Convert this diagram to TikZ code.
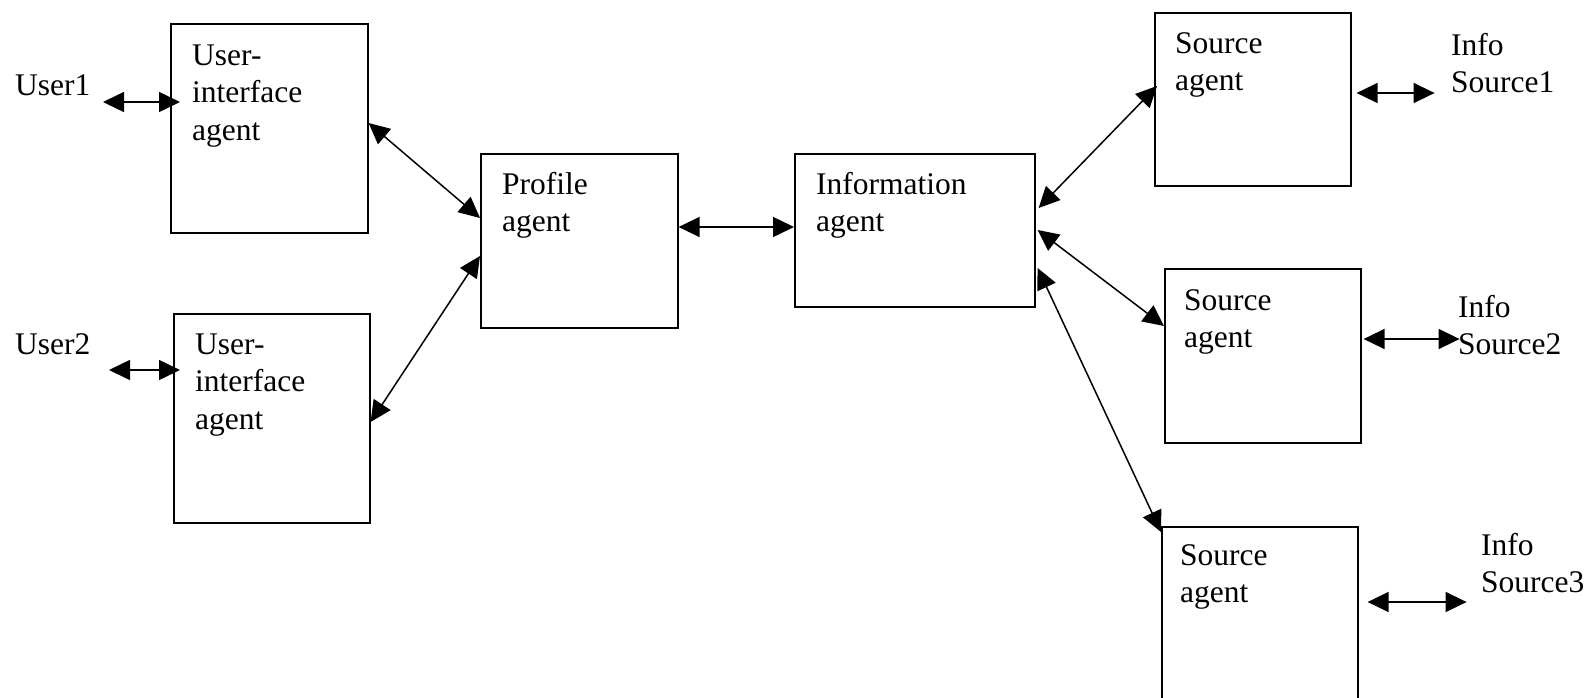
\documentclass[tikz,border=0pt]{standalone}
\usepackage{fontspec}
\setmainfont{Liberation Serif}
\usetikzlibrary{arrows.meta,calc}
\begin{document}
\begin{tikzpicture}[x=1pt,y=-1pt,
  box/.style={draw, line width=1.6pt, inner sep=0pt, anchor=north west},
  lbl/.style={font=\fontsize{31.5}{37.8}\selectfont, align=left, inner sep=0pt, anchor=base west},
  link/.style={line width=1.5pt, {Triangle[length=21pt,width=20pt]}-{Triangle[length=21pt,width=20pt]}},
]
\useasboundingbox (0,0) rectangle (1588,697);
\clip (0,0) rectangle (1588,697);
% boxes
\node[box, minimum width=197pt, minimum height=209pt] (ui1) at (170,23) {};
\node[box, minimum width=196pt, minimum height=209pt] (ui2) at (173,313) {};
\node[box, minimum width=197pt, minimum height=174pt] (prof) at (480,153) {};
\node[box, minimum width=240pt, minimum height=153pt] (info) at (794,153) {};
\node[box, minimum width=196pt, minimum height=173pt] (s1) at (1154,12) {};
\node[box, minimum width=196pt, minimum height=174pt] (s2) at (1164,268) {};
\node[box, minimum width=196pt, minimum height=220pt] (s3) at (1161,526) {};
% texts (anchored at the baseline of the last line)
\node[lbl] (user1) at (15,95) {User1};
\node[lbl] (user2) at (15,354) {User2};
\node[lbl] (t1) at (192,140.6) {User-\\interface\\agent};
\node[lbl] (t2) at (195,429.6) {User-\\interface\\agent};
\node[lbl] (tp) at (502,231.8) {Profile\\agent};
\node[lbl] (ti) at (816,231.8) {Information\\agent};
\node[lbl] (ts1) at (1175,90.8) {Source\\agent};
\node[lbl] (ts2) at (1184,347.8) {Source\\agent};
\node[lbl] (ts3) at (1180,602.8) {Source\\agent};
\node[lbl] (i1) at (1451,92.8) {Info\\Source1};
\node[lbl] (i2) at (1458,354.8) {Info\\Source2};
\node[lbl] (i3) at (1481,592.8) {Info\\Source3};
% connectors
\draw[link] ([xshift=-67pt,yshift=-79pt]ui1.north west) -- ([xshift=10pt,yshift=-79pt]ui1.north west);
\draw[link] ([xshift=-64pt,yshift=-57pt]ui2.north west) -- ([xshift=7pt,yshift=-57pt]ui2.north west);
\draw[link] ([yshift=-100pt]ui1.north east) -- ([yshift=-65pt]prof.north west);
\draw[link] ([yshift=-109pt]ui2.north east) -- ([yshift=-103pt]prof.north west);
\draw[link] ([yshift=-74pt]prof.north east) -- ([yshift=-74pt]info.north west);
\draw[link] ([xshift=3pt,yshift=-55pt]info.north east) -- ([xshift=3pt,yshift=-74pt]s1.north west);
\draw[link] ([xshift=2pt,yshift=-77pt]info.north east) -- ([yshift=-58pt]s2.north west);
\draw[link] ([xshift=2pt,yshift=-115pt]info.north east) -- ([yshift=-6pt]s3.north west);
\draw[link] ([xshift=5pt,yshift=-81pt]s1.north east) -- ([xshift=83pt,yshift=-81pt]s1.north east);
\draw[link] ([xshift=2pt,yshift=-71pt]s2.north east) -- ([xshift=98pt,yshift=-71pt]s2.north east);
\draw[link] ([xshift=9pt,yshift=-76pt]s3.north east) -- ([xshift=108pt,yshift=-76pt]s3.north east);
\end{tikzpicture}
\end{document}
